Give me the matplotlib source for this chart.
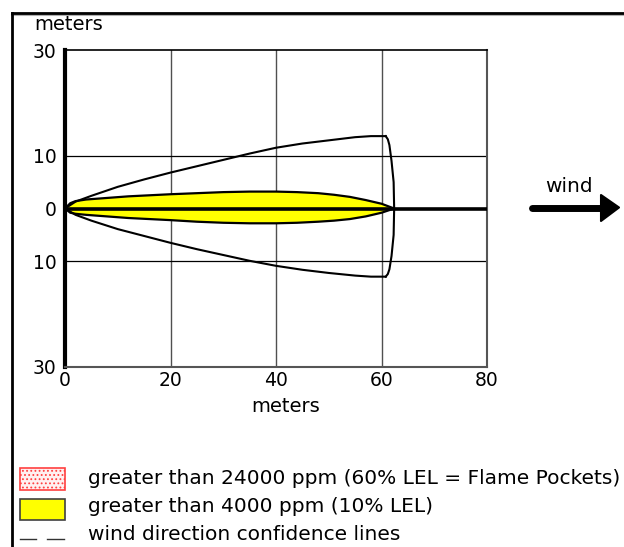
import matplotlib
matplotlib.use("Agg")
import matplotlib.pyplot as plt
from matplotlib.patches import Rectangle, Polygon
from matplotlib.lines import Line2D

# ---- data (meters) ----
zone_x = [0, 1, 2, 4, 8, 12, 16, 20, 25, 30, 35, 40, 44, 48, 51, 54, 57, 60, 62.4]
zone_up = [0, 1.0, 1.4, 1.7, 2.0, 2.3, 2.5, 2.7, 2.9, 3.1, 3.2, 3.2, 3.1, 2.9, 2.6, 2.2, 1.6, 0.9, 0]
zone_lo = [0, -0.8, -1.0, -1.2, -1.5, -1.8, -2.0, -2.2, -2.5, -2.7, -2.8, -2.8, -2.7, -2.5, -2.3, -2.0, -1.5, -0.8, 0]

conf_up_x = [0, 2, 5, 10, 15, 20, 25, 30, 35, 40, 45, 50, 55, 58, 60.8]
conf_up_y = [0, 1.3, 2.4, 4.1, 5.5, 6.8, 8.0, 9.2, 10.4, 11.5, 12.3, 12.9, 13.5, 13.7, 13.7]
conf_lo_x = [0, 2, 5, 10, 15, 20, 25, 30, 35, 40, 45, 50, 55, 58, 60.8]
conf_lo_y = [0, -1.2, -2.3, -3.9, -5.2, -6.5, -7.7, -8.8, -9.9, -10.85, -11.6, -12.2, -12.7, -12.9, -12.9]
arc_x = [60.8, 61.2, 61.5, 61.9, 62.3, 62.4, 62.3, 61.9, 61.5, 61.2, 60.8]
arc_y = [13.7, 13.1, 12.0, 9.0, 5.0, 0.0, -5.0, -9.0, -11.5, -12.4, -12.9]

x_ticks = [0, 20, 40, 60, 80]
x_tick_labels = ["0", "20", "40", "60", "80"]
y_ticks = [-30, -10, 0, 10, 30]
y_tick_labels = ["30", "10", "0", "10", "30"]
legend_labels = ["greater than 24000 ppm (60% LEL = Flame Pockets)",
                 "greater than 4000 ppm (10% LEL)",
                 "wind direction confidence lines"]

W, H = 624, 547
plt.rcParams["hatch.color"] = "#ff5050"
plt.rcParams["hatch.linewidth"] = 0.8
fig = plt.figure(figsize=(W / 100, H / 100), dpi=100)
fig.patch.set_facecolor("white")

def fx(px):
    return px / W

def fy(py):
    return 1 - py / H

ax = fig.add_axes([fx(65), fy(367), fx(487) - fx(65), fy(50) - fy(367)])
ax.set_xlim(0, 80)
ax.set_ylim(-30, 30)

# grid
for xv in [20, 40, 60]:
    ax.axvline(xv, color="#505050", lw=1.0, zorder=1)
for yv in [-10, 10]:
    ax.axhline(yv, color="black", lw=0.9, zorder=1)

# yellow threat zone
poly_x = zone_x + zone_x[::-1]
poly_y = zone_up + zone_lo[::-1]
ax.fill(poly_x, poly_y, facecolor="#ffff00", edgecolor="black", lw=1.6, zorder=3)

# centerline
ax.plot([0, 80], [0, 0], color="black", lw=2.6, zorder=4, solid_capstyle="butt")

# confidence lines
ax.plot(conf_up_x, conf_up_y, color="black", lw=1.5, zorder=5)
ax.plot(conf_lo_x, conf_lo_y, color="black", lw=1.5, zorder=5)
ax.plot(arc_x, arc_y, color="black", lw=1.5, zorder=5)

ax.set_xticks(x_ticks)
ax.set_xticklabels(x_tick_labels)
ax.set_yticks(y_ticks)
ax.set_yticklabels(y_tick_labels)
ax.tick_params(length=0, labelsize=13.5, pad=6)
ax.tick_params(axis="x", pad=3)

ax.spines["left"].set_linewidth(3)
ax.spines["left"].set_color("black")
ax.spines["top"].set_linewidth(1.2)
ax.spines["top"].set_color("black")
ax.spines["right"].set_linewidth(1.5)
ax.spines["right"].set_color("#555555")
ax.spines["bottom"].set_linewidth(1.5)
ax.spines["bottom"].set_color("#555555")

fig.text(fx(286), fy(407), "meters", ha="center", va="center", fontsize=14)
fig.text(fx(34), fy(25), "meters", ha="left", va="center", fontsize=14)

# outer frame (top and left)
fig.add_artist(Line2D([fx(12), fx(624)], [fy(14.5), fy(14.5)], color="#b0b0b0", lw=1.5))
fig.add_artist(Line2D([fx(12), fx(624)], [fy(13), fy(13)], color="black", lw=2))
fig.add_artist(Line2D([fx(12), fx(12)], [fy(13), fy(547)], color="black", lw=2))

# wind arrow
fig.text(fx(569), fy(186), "wind", ha="center", va="center", fontsize=14.5)
fig.add_artist(Line2D([fx(532), fx(603)], [fy(207.5), fy(207.5)], color="black", lw=5,
                      solid_capstyle="round"))
fig.add_artist(Polygon([[fx(601), fy(195)], [fx(619), fy(207.5)], [fx(601), fy(221)]],
                       closed=True, facecolor="black", edgecolor="black", lw=1.5,
                       joinstyle="round", transform=fig.transFigure))

# legend
fig.add_artist(Rectangle((fx(20), fy(490)), fx(65) - fx(20), fy(468) - fy(490),
                         facecolor="#fff0f0", edgecolor="#ff4040", hatch="....", lw=1.2,
                         transform=fig.transFigure))
fig.add_artist(Rectangle((fx(20), fy(520)), fx(65) - fx(20), fy(499) - fy(520),
                         facecolor="#ffff00", edgecolor="#404040", lw=1.2,
                         transform=fig.transFigure))
fig.add_artist(Line2D([fx(20), fx(36)], [fy(539), fy(539)], color="#333333", lw=1))
fig.add_artist(Line2D([fx(47), fx(64)], [fy(539), fy(539)], color="#333333", lw=1))
for yy, lab in zip([478, 507, 535], legend_labels):
    fig.text(fx(88), fy(yy), lab, ha="left", va="center", fontsize=14.5)

fig.savefig("out.png", dpi=100, facecolor="white")
